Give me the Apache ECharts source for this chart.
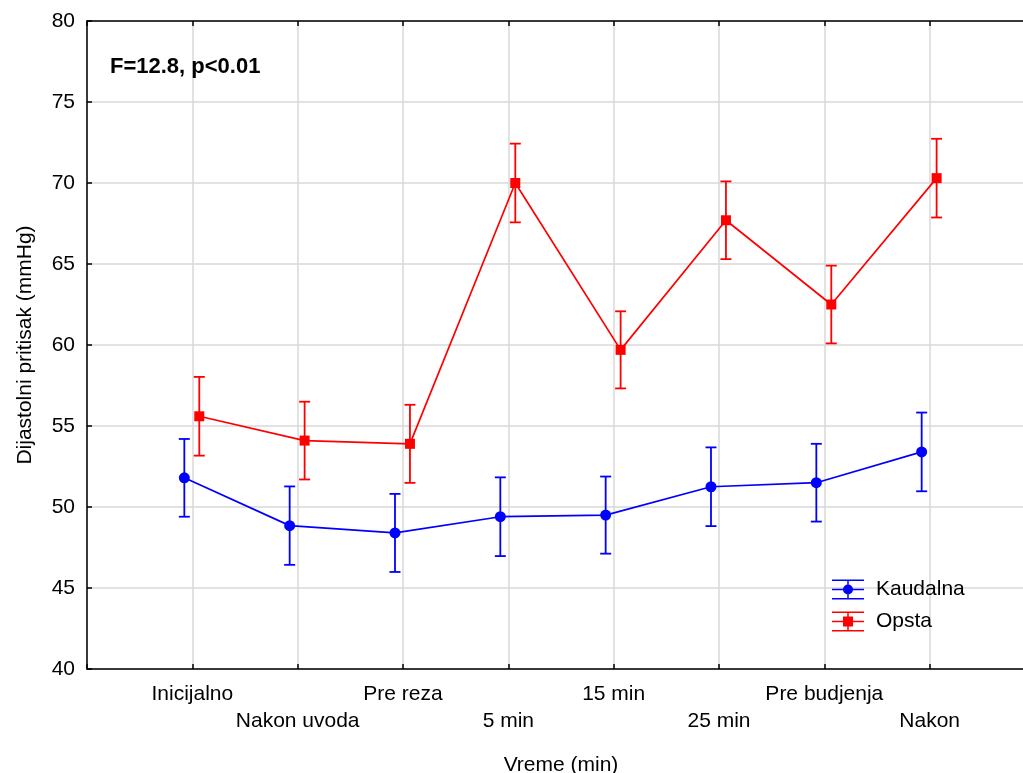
<!DOCTYPE html>
<html>
<head>
<meta charset="utf-8">
<script src="https://cdn.jsdelivr.net/npm/echarts@6/dist/echarts.min.js"></script>
<style>
html,body{margin:0;padding:0;background:#fff;}
#chart{width:1023px;height:773px;}
</style>
</head>
<body>
<div id="chart"></div>
<script>
// ---- data ----
const categories = ['Inicijalno','Nakon uvoda','Pre reza','5 min','15 min','25 min','Pre budjenja','Nakon'];
const kaudalnaMean = [51.8, 48.85, 48.4, 49.4, 49.5, 51.25, 51.5, 53.4];
const kaudalnaErr  = [2.4, 2.42, 2.41, 2.43, 2.38, 2.43, 2.4, 2.43];
const opstaMean    = [55.6, 54.1, 53.9, 70.0, 59.7, 67.7, 62.5, 70.3];
const opstaErr     = [2.43, 2.4, 2.41, 2.43, 2.38, 2.4, 2.4, 2.43];
const yTicks = [40, 45, 50, 55, 60, 65, 70, 75, 80];
const annotation = 'F=12.8, p<0.01';

// ---- styling ----
const FONT = 'Liberation Sans, Arial, sans-serif';
const BLUE = '#0000ff', RED = '#ff0000';
const DODGE_K = -0.076, DODGE_O = 0.066;

function pts(mean, dodge){ return mean.map((v,i)=>[i+dodge, v]); }
function errData(mean, err, dodge){ return mean.map((v,i)=>[i+dodge, v-err[i], v+err[i]]); }
function errRender(color){
  return function(params, api){
    const x = api.value(0);
    const lo = api.coord([x, api.value(1)]);
    const hi = api.coord([x, api.value(2)]);
    const hw = 5.5;
    const st = {stroke: color, lineWidth: 1.8};
    return {type:'group', children:[
      {type:'line', shape:{x1:lo[0], y1:lo[1], x2:hi[0], y2:hi[1]}, style:st},
      {type:'line', shape:{x1:lo[0]-hw, y1:lo[1], x2:lo[0]+hw, y2:lo[1]}, style:st},
      {type:'line', shape:{x1:hi[0]-hw, y1:hi[1], x2:hi[0]+hw, y2:hi[1]}, style:st}
    ]};
  };
}

const iconCircle = 'path://M0 0H32V1.5H0Z M0 18.5H32V20H0Z M0 9.25H32V10.75H0Z M15.25 0H16.75V20H15.25Z M11 10A5 5 0 1 1 21 10A5 5 0 1 1 11 10Z';
const iconSquare = 'path://M0 0H32V1.5H0Z M0 18.5H32V20H0Z M0 9.25H32V10.75H0Z M15.25 0H16.75V20H15.25Z M11 5H21V15H11Z';

const chart = echarts.init(document.getElementById('chart'), null, {renderer:'canvas'});
chart.setOption({
  animation: false,
  backgroundColor: '#fff',
  textStyle: {fontFamily: FONT},
  title: {
    text: annotation, left: 110, top: 56, padding: 0,
    textStyle: {fontFamily: FONT, fontSize: 22, fontWeight: 'bold', color: '#000'}
  },
  legend: {
    orient: 'vertical', left: 832, top: 579, padding: 0, itemWidth: 32, itemHeight: 20, itemGap: 11,
    textStyle: {fontFamily: FONT, fontSize: 21, color: '#000', padding: [0,0,0,7]},
    data: [
      {name: 'Kaudalna', icon: iconCircle, itemStyle: {color: BLUE}},
      {name: 'Opsta', icon: iconSquare, itemStyle: {color: RED}}
    ]
  },
  grid: {left: 87, top: 21, right: -12, bottom: 104, containLabel: false, outerBoundsMode: 'none'},
  xAxis: [{
    type: 'value', min: -1, max: 8, interval: 1, position: 'bottom',
    name: 'Vreme (min)', nameLocation: 'middle', nameGap: 86,
    nameTextStyle: {fontFamily: FONT, fontSize: 21, color: '#000'},
    axisLine: {onZero: false, lineStyle: {color: '#000', width: 1.5}},
    axisTick: {inside: true, length: 5, lineStyle: {color: '#000', width: 1.5}},
    splitLine: {show: true, lineStyle: {color: '#d9d9d9', width: 1.5}},
    axisLabel: {
      margin: 12, fontFamily: FONT, fontSize: 21, color: '#000', lineHeight: 27,
      showMinLabel: true, showMaxLabel: true,
      formatter: function(v){
        const i = Math.round(v);
        if (i < 0 || i >= categories.length) return '';
        return (i % 2 === 0) ? categories[i] : '\n' + categories[i];
      }
    }
  },{
    type: 'value', min: -1, max: 8, interval: 1, position: 'top',
    axisLine: {onZero: false, lineStyle: {color: '#000', width: 1.5}},
    axisTick: {inside: true, length: 5, lineStyle: {color: '#000', width: 1.5}},
    axisLabel: {show: false}, splitLine: {show: false}
  }],
  yAxis: {
    type: 'value', min: yTicks[0], max: yTicks[yTicks.length-1], interval: 5,
    name: 'Dijastolni pritisak (mmHg)', nameLocation: 'middle', nameGap: 51,
    nameTextStyle: {fontFamily: FONT, fontSize: 21, color: '#000'},
    axisLine: {show: true, onZero: false, lineStyle: {color: '#000', width: 1.5}},
    axisTick: {show: true, inside: true, length: 5, lineStyle: {color: '#000', width: 1.5}},
    splitLine: {show: true, lineStyle: {color: '#d9d9d9', width: 1.5}},
    axisLabel: {margin: 12, fontFamily: FONT, fontSize: 21, color: '#000'}
  },
  series: [
    {name: 'Kaudalna', type: 'custom', renderItem: errRender(BLUE), data: errData(kaudalnaMean, kaudalnaErr, DODGE_K), z: 2, encode: {x: 0, y: [1,2]}, itemStyle: {color: BLUE}},
    {name: 'Opsta', type: 'custom', renderItem: errRender(RED), data: errData(opstaMean, opstaErr, DODGE_O), z: 2, encode: {x: 0, y: [1,2]}, itemStyle: {color: RED}},
    {name: 'Kaudalna', type: 'line', data: pts(kaudalnaMean, DODGE_K), symbol: 'circle', symbolSize: 11,
     lineStyle: {color: BLUE, width: 1.7}, itemStyle: {color: BLUE}, z: 3},
    {name: 'Opsta', type: 'line', data: pts(opstaMean, DODGE_O), symbol: 'rect', symbolSize: 10,
     lineStyle: {color: RED, width: 1.7}, itemStyle: {color: RED}, z: 3}
  ]
});
</script>
</body>
</html>
